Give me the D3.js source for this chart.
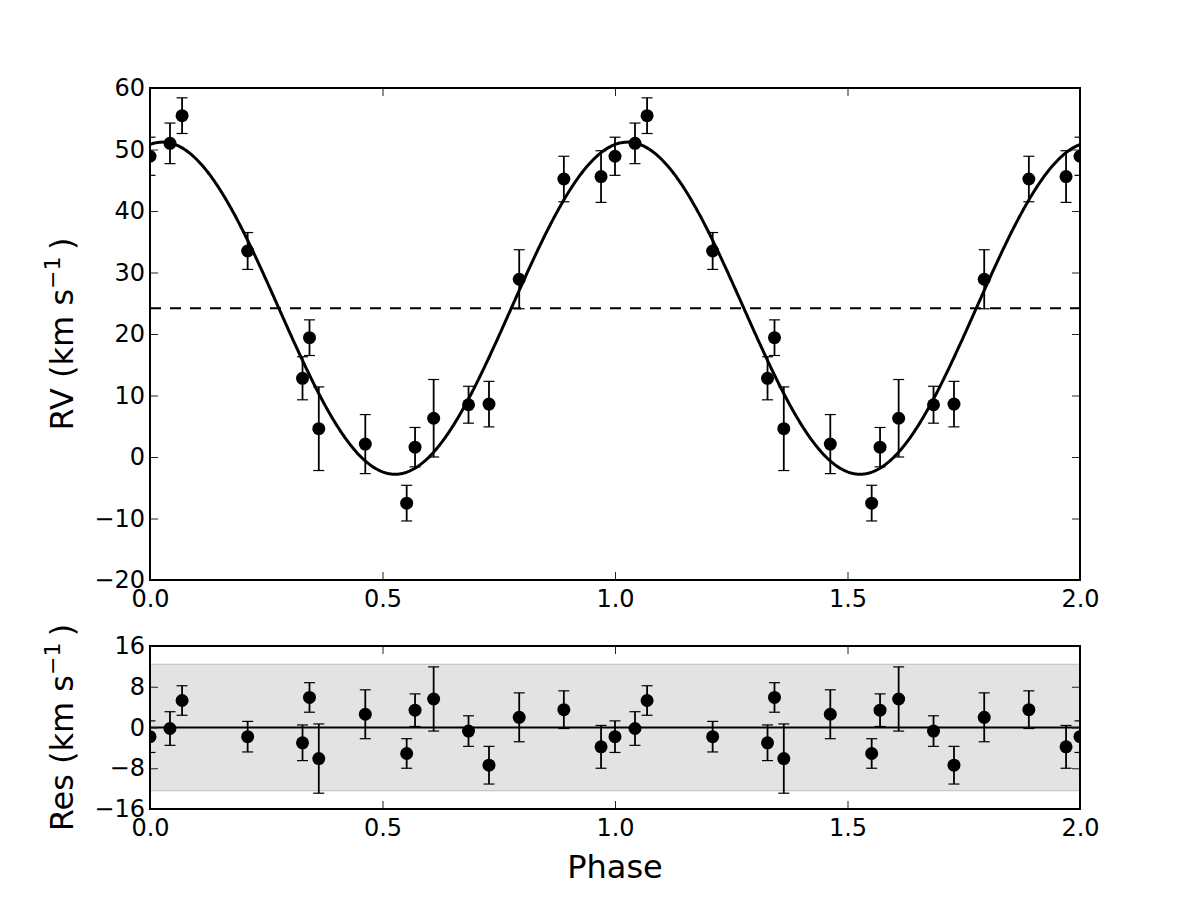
<!DOCTYPE html>
<html lang="en">
<head>
<title>RV curve with residuals</title>
<meta charset="utf-8">

<script src="https://d3js.org/d3.v7.min.js"></script>

<style type="text/css">

body {
	margin: 0;
	background: #fff;
	font-family: "DejaVu Sans", sans-serif;
}

</style>

</head>

<body>

<div id="vis"></div>


<script>


/* Data */
/* ==== */

// orbital phase of each spectrum (shown again at phase + 1)
var phases = [0.000, 0.043, 0.069, 0.210, 0.328, 0.343, 0.363, 0.463,
	0.552, 0.570, 0.610, 0.685, 0.729, 0.794, 0.890, 0.970];

var rvValues = [48.9, 51.0, 55.5, 33.5, 12.8, 19.4, 4.6, 2.1,
	-7.5, 1.6, 6.3, 8.5, 8.6, 28.9, 45.2, 45.6];

var rvErrors = [3.1, 3.3, 2.9, 3.0, 3.5, 2.9, 6.8, 4.8,
	2.9, 3.2, 6.3, 3.0, 3.7, 4.8, 3.7, 4.2];

var residuals = [-1.8, -0.2, 5.3, -1.8, -3.0, 5.9, -6.1, 2.6,
	-5.1, 3.4, 5.6, -0.7, -7.4, 2.0, 3.5, -3.8];

// fitted orbit: systemic velocity, semi-amplitude, phase of maximum
var gamma = 24.2,
		semiAmp = 27.0,
		phaseMax = 0.027;

var resBand = 12.4;

var xTicks = [0, 0.5, 1, 1.5, 2];
var rvTicks = [-20, -10, 0, 10, 20, 30, 40, 50, 60];
var resTicks = [-16, -8, 0, 8, 16];


/* Globals and SVG */
/* =============== */

var width = 1200,
		height = 900;

var left = 150, right = 1080;
var top1 = 88, bottom1 = 580;
var top2 = 646, bottom2 = 809;

var svg = d3.select('#vis')
	.append('svg')
		.attr('width', width)
		.attr('height', height);

var x = d3.scaleLinear().domain([0, 2]).range([left, right]);
var yRv = d3.scaleLinear().domain([-20, 60]).range([bottom1, top1]);
var yRes = d3.scaleLinear().domain([-16, 16]).range([bottom2, top2]);

var tickFont = 24,
		labelFont = 32;

// every point is drawn twice, once per plotted cycle, and at phase 2 for phase 0
var points = [];
[0, 1, 2].forEach(function(cycle) {
	phases.forEach(function(p, i) {
		if (p + cycle > 2.001) return;
		points.push({ phase: p + cycle, rv: rvValues[i], err: rvErrors[i], res: residuals[i] });
	});
});


/* Functions */
/* ========= */

function model(p) {
	return gamma + semiAmp * Math.cos(2 * Math.PI * (p - phaseMax));
}

function makeClip(id, y0, y1) {
	svg.append('clipPath')
		.attr('id', id)
		.append('rect')
			.attr('x', left)
			.attr('y', y0)
			.attr('width', right - left)
			.attr('height', y1 - y0);
}

function drawAxes(y, yTickVals, y0, y1) {

	var g = svg.append('g');

	var xb = d3.axisBottom(x).tickValues(xTicks).tickSizeInner(-8).tickSizeOuter(0)
		.tickPadding(10).tickFormat(d3.format('.1f'));
	var xt = d3.axisTop(x).tickValues(xTicks).tickSizeInner(-8).tickSizeOuter(0).tickFormat('');
	var yl = d3.axisLeft(y).tickValues(yTickVals).tickSizeInner(-8).tickSizeOuter(0)
		.tickPadding(5).tickFormat(d3.format('d'));
	var yr = d3.axisRight(y).tickValues(yTickVals).tickSizeInner(-8).tickSizeOuter(0).tickFormat('');

	g.append('g').attr('transform', 'translate(0,' + y1 + ')').call(xb);
	g.append('g').attr('transform', 'translate(0,' + y0 + ')').call(xt);
	g.append('g').attr('transform', 'translate(' + left + ',0)').call(yl);
	g.append('g').attr('transform', 'translate(' + right + ',0)').call(yr);

	g.selectAll('.domain').remove();
	g.selectAll('.tick line').attr('stroke', '#222').attr('stroke-width', 1);
	g.selectAll('.tick text')
		.attr('fill', '#000')
		.style('font-family', '"DejaVu Sans", sans-serif')
		.style('font-size', tickFont + 'px');

	// frame
	g.append('rect')
		.attr('x', left)
		.attr('y', y0)
		.attr('width', right - left)
		.attr('height', y1 - y0)
		.attr('fill', 'none')
		.attr('stroke', '#000')
		.attr('stroke-width', 2);
}

function drawErrorPoints(g, y, key) {

	var cap = 5.5;

	var bars = g.selectAll('.eb-' + key)
		.data(points)
		.enter()
		.append('g');

	bars.append('line')
		.attr('x1', function(d) { return x(d.phase); })
		.attr('x2', function(d) { return x(d.phase); })
		.attr('y1', function(d) { return y(d[key] - d.err); })
		.attr('y2', function(d) { return y(d[key] + d.err); })
		.attr('stroke', '#000')
		.attr('stroke-width', 1.8);

	[-1, 1].forEach(function(s) {
		bars.append('line')
			.attr('x1', function(d) { return x(d.phase) - cap; })
			.attr('x2', function(d) { return x(d.phase) + cap; })
			.attr('y1', function(d) { return y(d[key] + s * d.err); })
			.attr('y2', function(d) { return y(d[key] + s * d.err); })
			.attr('stroke', '#000')
			.attr('stroke-width', 1.2);
	});

	g.selectAll('.pt-' + key)
		.data(points)
		.enter()
		.append('circle')
			.attr('cx', function(d) { return x(d.phase); })
			.attr('cy', function(d) { return y(d[key]); })
			.attr('r', 6.5)
			.attr('fill', '#000');
}

function drawRvPanel() {

	makeClip('clip-rv', top1, bottom1);

	var g = svg.append('g').attr('clip-path', 'url(#clip-rv)');

	g.append('line')
		.attr('x1', left)
		.attr('x2', right)
		.attr('y1', yRv(gamma))
		.attr('y2', yRv(gamma))
		.attr('stroke', '#000')
		.attr('stroke-width', 2)
		.attr('stroke-dasharray', '11,9');

	var curve = d3.range(0, 2.0005, 0.002);

	g.append('path')
		.datum(curve)
		.attr('d', d3.line()
			.x(function(p) { return x(p); })
			.y(function(p) { return yRv(model(p)); }))
		.attr('fill', 'none')
		.attr('stroke', '#000')
		.attr('stroke-width', 3);

	drawErrorPoints(g, yRv, 'rv');

	drawAxes(yRv, rvTicks, top1, bottom1);

} // drawRvPanel()

function drawResPanel() {

	makeClip('clip-res', top2, bottom2);

	var g = svg.append('g').attr('clip-path', 'url(#clip-res)');

	g.append('rect')
		.attr('x', left)
		.attr('y', yRes(resBand))
		.attr('width', right - left)
		.attr('height', yRes(-resBand) - yRes(resBand))
		.attr('fill', '#e3e3e3')
		.attr('stroke', '#c6c6c6')
		.attr('stroke-width', 1.2);

	g.append('line')
		.attr('x1', left)
		.attr('x2', right)
		.attr('y1', yRes(0))
		.attr('y2', yRes(0))
		.attr('stroke', '#000')
		.attr('stroke-width', 2);

	drawErrorPoints(g, yRes, 'res');

	drawAxes(yRes, resTicks, top2, bottom2);

} // drawResPanel()

function yLabel(name, cy) {

	var t = svg.append('text')
		.attr('transform', 'translate(73,' + cy + ') rotate(-90)')
		.attr('text-anchor', 'middle')
		.style('font-size', labelFont + 'px')
		.attr('fill', '#000');

	t.append('tspan').text(name + ' (km s');
	t.append('tspan')
		.attr('dy', -13)
		.style('font-size', '22px')
		.text('\u22121');
	t.append('tspan')
		.attr('dy', 13)
		.text('\u2009)');
}

function drawLabels() {

	yLabel('RV', (top1 + bottom1) / 2);
	yLabel('Res', (top2 + bottom2) / 2);

	svg.append('text')
		.attr('x', (left + right) / 2)
		.attr('y', 878)
		.attr('text-anchor', 'middle')
		.style('font-size', labelFont + 'px')
		.attr('fill', '#000')
		.text('Phase');
}


/* Build */
/* ===== */

drawRvPanel();
drawResPanel();
drawLabels();

</script>

</body>
</html>
